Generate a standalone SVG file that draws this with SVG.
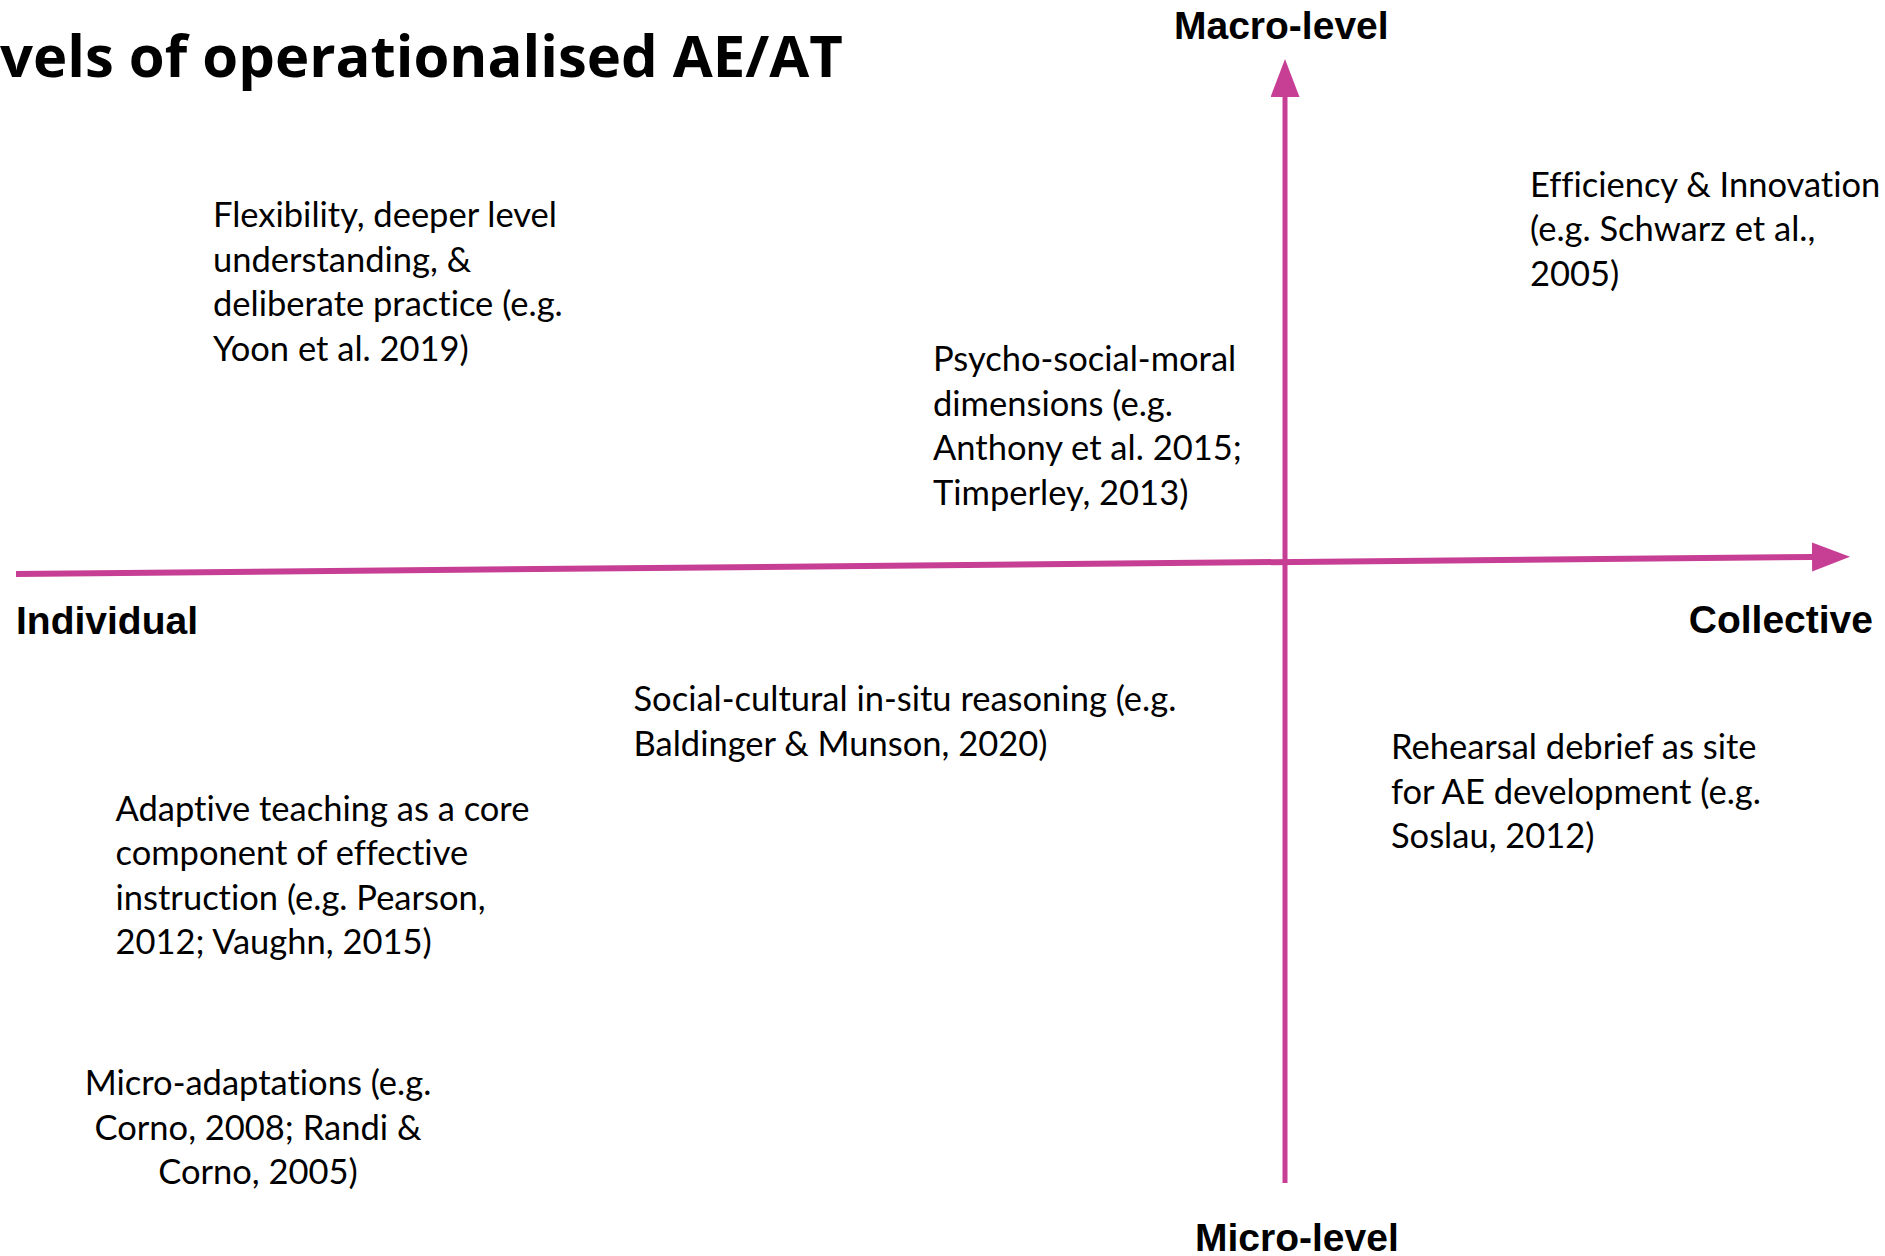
<svg xmlns="http://www.w3.org/2000/svg" width="1885" height="1256" viewBox="0 0 1885 1256">
  <style>
    .body { font-family: Lato, "Open Sans", "Liberation Sans", sans-serif; font-size: 34.5px; fill: #000; font-variant-ligatures: none; }
    .axis { font-family: "Liberation Sans", Arial, sans-serif; font-weight: bold; font-size: 39px; fill: #000; }
    .title { font-family: "Open Sans", "Liberation Sans", sans-serif; font-weight: bold; font-size: 58px; fill: #000; }
    .ax { stroke: #C73E95; fill: none; }
  </style>
  <defs>
    <marker id="arrow" markerUnits="userSpaceOnUse" markerWidth="40" markerHeight="30" refX="0" refY="14.5" orient="auto">
      <path d="M0,0 L38,14.5 L0,29 z" fill="#C73E95"/>
    </marker>
  </defs>
  <rect width="1885" height="1256" fill="#fff"/>
  <text class="title" x="0" y="77">vels of operationalised AE/AT</text>

  <g id="connectors">
    <line class="ax" x1="16" y1="574" x2="1812" y2="557" stroke-width="6" marker-end="url(#arrow)"/>
    <line class="ax" x1="1285" y1="1183" x2="1285" y2="97" stroke-width="5" marker-end="url(#arrow)"/>
  </g>

  <g id="axis-labels">
    <text id="macro" class="axis" x="1174" y="39">Macro-level</text>
    <text id="micro" class="axis" x="1195" y="1251">Micro-level</text>
    <text id="individual" class="axis" x="16" y="634">Individual</text>
    <text id="collective" class="axis" x="1873" y="633" text-anchor="end">Collective</text>
  </g>

  <g id="flexibility">
    <text class="body" x="213" y="227">Flexibility, deeper level</text>
    <text class="body" x="213" y="271.5">understanding, &amp;</text>
    <text class="body" x="213" y="316">deliberate practice (e.g.</text>
    <text class="body" x="213" y="360.5">Yoon et al. 2019)</text>
  </g>
  <g id="efficiency">
    <text class="body" x="1530" y="196.5">Efficiency &amp; Innovation</text>
    <text class="body" x="1530" y="241">(e.g. Schwarz et al.,</text>
    <text class="body" x="1530" y="285.5">2005)</text>
  </g>
  <g id="psycho">
    <text class="body" x="933" y="371">Psycho-social-moral</text>
    <text class="body" x="933" y="415.5">dimensions (e.g.</text>
    <text class="body" x="933" y="460">Anthony et al. 2015;</text>
    <text class="body" x="933" y="504.5">Timperley, 2013)</text>
  </g>
  <g id="social">
    <text class="body" x="633.5" y="711">Social-cultural in-situ reasoning (e.g.</text>
    <text class="body" x="633.5" y="755.5">Baldinger &amp; Munson, 2020)</text>
  </g>
  <g id="rehearsal">
    <text class="body" x="1391" y="759">Rehearsal debrief as site</text>
    <text class="body" x="1391" y="803.5">for AE development (e.g.</text>
    <text class="body" x="1391" y="848">Soslau, 2012)</text>
  </g>
  <g id="adaptive">
    <text class="body" x="115.5" y="820.5">Adaptive teaching as a core</text>
    <text class="body" x="115.5" y="865">component of effective</text>
    <text class="body" x="115.5" y="909.5">instruction (e.g. Pearson,</text>
    <text class="body" x="115.5" y="954">2012; Vaughn, 2015)</text>
  </g>
  <g id="micro-adaptations">
    <text class="body" x="258" y="1095" text-anchor="middle">Micro-adaptations (e.g.</text>
    <text class="body" x="258" y="1139.5" text-anchor="middle">Corno, 2008; Randi &amp;</text>
    <text class="body" x="258" y="1184" text-anchor="middle">Corno, 2005)</text>
  </g>
</svg>
